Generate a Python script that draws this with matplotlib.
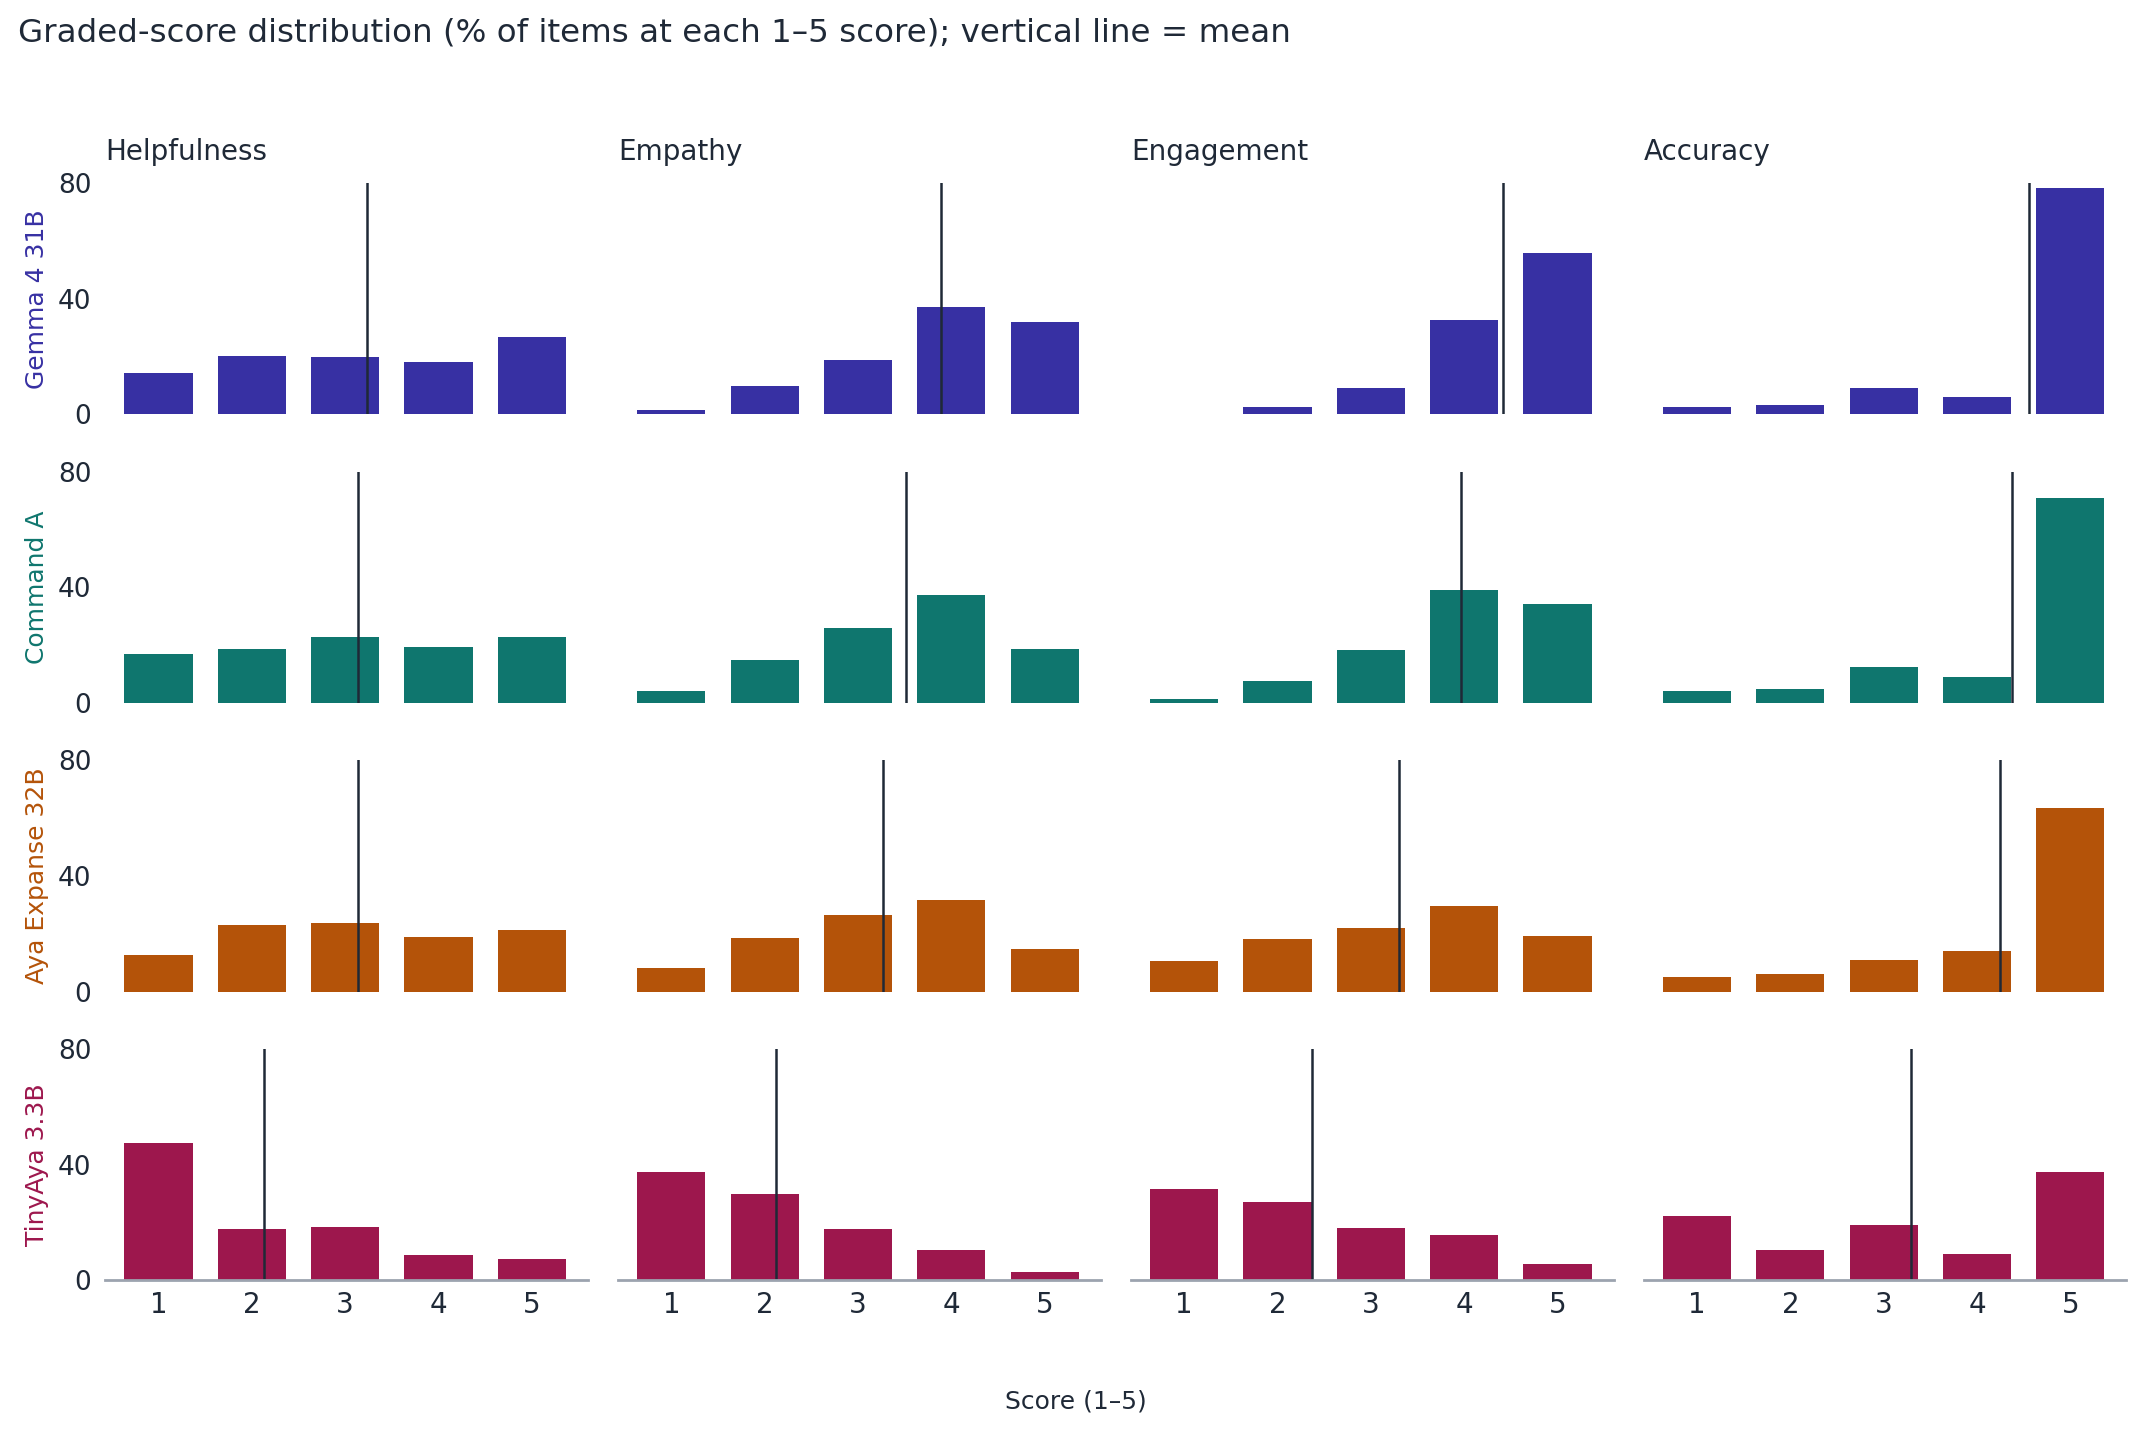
import numpy as np
import matplotlib.pyplot as plt

# score buckets
scores = [1, 2, 3, 4, 5]

models = ['Gemma 4 31B', 'Command A', 'Aya Expanse 32B', 'TinyAya 3.3B']
metrics = ['Helpfulness', 'Empathy', 'Engagement', 'Accuracy']
colors = ['#3730a3', '#0f766e', '#b45309', '#9d174d']

# % of items at each score, one row per metric (Helpfulness, Empathy, Engagement, Accuracy)
gemma = [[14.5, 20.3, 20.0, 18.3, 26.9],
         [1.7, 9.7, 19.0, 37.2, 32.1],
         [0.0, 2.4, 9.0, 32.8, 55.9],
         [2.4, 3.4, 9.3, 6.2, 78.3]]
command_a = [[16.9, 18.6, 22.8, 19.3, 23.0],
             [4.1, 14.8, 25.9, 37.2, 18.6],
             [1.3, 7.6, 18.3, 39.0, 34.2],
             [4.1, 4.7, 12.4, 9.0, 70.8]]
aya = [[12.7, 23.0, 23.7, 18.8, 21.2],
       [8.2, 18.6, 26.5, 31.6, 14.7],
       [10.6, 18.2, 22.0, 29.6, 19.2],
       [5.0, 6.0, 10.9, 14.1, 63.5]]
tinyaya = [[47.5, 17.6, 18.3, 8.6, 7.5],
           [37.6, 30.0, 17.8, 10.4, 2.8],
           [31.7, 27.2, 18.1, 15.7, 5.6],
           [22.3, 10.4, 19.2, 9.1, 37.6]]

# mean score per model / metric (vertical lines)
gemma_mean = [3.23, 3.89, 4.42, 4.56]
command_a_mean = [3.14, 3.51, 3.97, 4.37]
aya_mean = [3.14, 3.27, 3.30, 4.25]
tinyaya_mean = [2.13, 2.12, 2.37, 3.29]

data = [gemma, command_a, aya, tinyaya]
means = [gemma_mean, command_a_mean, aya_mean, tinyaya_mean]

text_color = '#1f2937'

fig = plt.figure(figsize=(10.72, 7.16), dpi=200)

left0 = 0.0491
col_w = 0.2251
col_step = 0.2392
row_h = 0.1614
row_tops = [0.872, 0.6705, 0.469, 0.2674]

for r in range(4):
    for c in range(4):
        ax = fig.add_axes([left0 + c * col_step, row_tops[r] - row_h, col_w, row_h])
        ax.bar(scores, data[r][c], width=0.73, color=colors[r])
        ax.axvline(means[r][c], color=text_color, lw=0.9)
        ax.set_xlim(0.43, 5.6)
        ax.set_ylim(0, 80)
        for s in ['top', 'right', 'left', 'bottom']:
            ax.spines[s].set_visible(False)
        ax.tick_params(length=0, labelsize=9.5, colors=text_color)
        ax.tick_params(axis='y', pad=5)
        ax.tick_params(axis='x', pad=4, labelsize=10)
        ax.set_xticks(scores)
        ax.set_yticks([0, 40, 80])
        if c > 0:
            ax.set_yticklabels([])
        if r < 3:
            ax.set_xticklabels([])
        else:
            ax.spines['bottom'].set_visible(True)
            ax.spines['bottom'].set_color('#9ca3af')
            ax.spines['bottom'].set_linewidth(1.0)
        if r == 0:
            ax.set_title(metrics[c], loc='left', fontsize=10, color=text_color, pad=8.5)
        if c == 0:
            fig.text(0.0172, row_tops[r] - row_h / 2, models[r], rotation=90,
                     ha='center', va='center', fontsize=9, color=colors[r])

fig.text(0.0083, 0.977, 'Graded-score distribution (% of items at each 1–5 score); vertical line = mean',
         ha='left', va='center', fontsize=11.7, color=text_color)
fig.text(0.502, 0.021, 'Score (1–5)', ha='center', va='center', fontsize=9, color=text_color)

fig.savefig('out.png', dpi=200, facecolor='white')
